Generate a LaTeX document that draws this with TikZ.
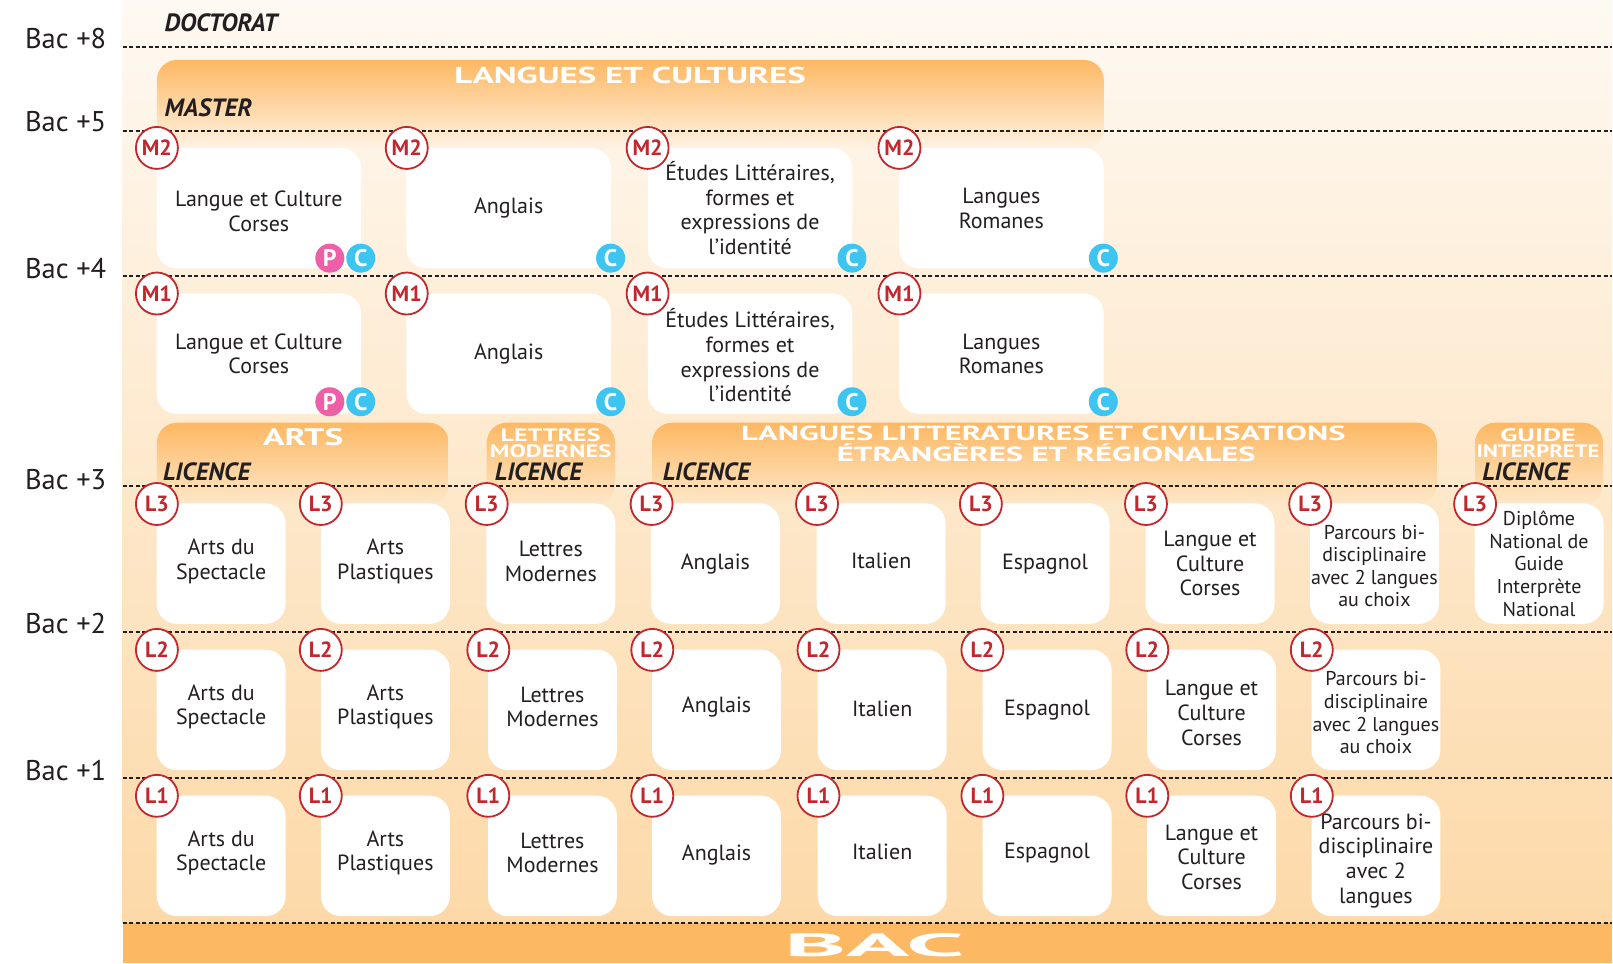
\documentclass[tikz,border=0pt]{standalone}
\usepackage{fontspec}
\setmainfont{PT Sans}
\newfontfamily\headfont[FakeStretch=1.3]{PT Sans}
\usetikzlibrary{shadings}
\definecolor{bandorange}{RGB}{253,184,99}
\definecolor{bgtop}{RGB}{254,249,242}
\definecolor{bgbottom}{RGB}{253,217,168}
\definecolor{fadeupper}{RGB}{254,244,230}
\definecolor{fadelower}{RGB}{253,232,202}
\definecolor{badgered}{RGB}{193,39,45}
\definecolor{labelink}{RGB}{35,31,32}
\definecolor{pinkbadge}{RGB}{238,95,167}
\definecolor{bluebadge}{RGB}{62,196,240}
\newcommand{\dropby}[2]{\raisebox{0pt}[\dimexpr\height+#1pt\relax]{#2}}
\newcommand{\liftby}[2]{\raisebox{0pt}[\height][\dimexpr\depth+#1pt\relax]{#2}}
\begin{document}
\begin{tikzpicture}[x=1pt,y=-1pt,level node/.style={font=\fontsize{28.5}{32}\selectfont\color{labelink}, anchor=east, inner sep=0pt},study node/.style={font=\fontsize{25}{28}\selectfont\bfseries\itshape\color{labelink}, anchor=west, inner sep=0pt},wide card/.style={fill=white, rounded corners=20pt, minimum width=204.6pt, minimum height=120.5pt, inner sep=0pt, align=center, font=\fontsize{22}{24.7}\selectfont\color{labelink}},card node/.style={wide card, minimum width=129pt},small card/.style={card node, font=\fontsize{20}{22.6}\selectfont\color{labelink}},year badge/.style={circle, draw=badgered, line width=1.8pt, fill=white, minimum size=42pt, inner sep=0pt, font=\fontsize{22}{22}\selectfont\bfseries\color{badgered}},p badge/.style={circle, fill=pinkbadge, minimum size=29pt, inner sep=0pt, font=\fontsize{24}{24}\selectfont\bfseries\color{white}},c badge/.style={p badge, fill=bluebadge},head node/.style={font=\fontsize{23}{23}\headfont\selectfont\bfseries\color{white}, inner sep=0pt},small head/.style={head node, font=\fontsize{18}{18}\headfont\selectfont\bfseries\color{white}},spine/.style={line width=2pt, labelink, dash pattern=on 4pt off 2.5pt}]%
  % Background%
\shade[top color=bgtop, bottom color=bgbottom] (122.8,0) rectangle (1613,924);%
\fill[bandorange] (122.8,924) rectangle (1613,964);%
  % Header bands%
\shade[top color=bandorange, bottom color=fadeupper, rounded corners=20pt] (157,150) -- (157,60) -- (1104.5,60) -- (1104.5,150) -- cycle;%
\shade[top color=bandorange, bottom color=fadelower, rounded corners=20pt] (157,505) -- (157,423) -- (449,423) -- (449,505) -- cycle;%
\shade[top color=bandorange, bottom color=fadelower, rounded corners=20pt] (487,505) -- (487,423) -- (615.5,423) -- (615.5,505) -- cycle;%
\shade[top color=bandorange, bottom color=fadelower, rounded corners=20pt] (652.6,505) -- (652.6,423) -- (1437.7,423) -- (1437.7,505) -- cycle;%
\shade[top color=bandorange, bottom color=fadelower, rounded corners=20pt] (1476,505) -- (1476,423) -- (1604,423) -- (1604,505) -- cycle;%
  % Levels%
\path[spine,draw] (122.8,46.7) -- (1613,46.7);%
\path[spine,draw] (122.8,130.7) -- (1613,130.7);%
\path[spine,draw] (122.8,276.3) -- (1613,276.3);%
\path[spine,draw] (122.8,486.5) -- (1613,486.5);%
\path[spine,draw] (122.8,632.7) -- (1613,632.7);%
\path[spine,draw] (122.8,778.7) -- (1613,778.7);%
\path[spine,draw] (122.8,924) -- (1613,924);%
\node[level node] (bac8) at (106.5,39) {Bac +8};%
\node[level node] (bac5) at (106.5,122) {Bac +5};%
\node[level node] (bac4) at (106.5,268.5) {Bac +4};%
\node[level node] (bac3) at (106.5,480) {Bac +3};%
\node[level node] (bac2) at (106.5,623.5) {Bac +2};%
\node[level node] (bac1) at (106.5,770.5) {Bac +1};%
  % Titles%
\node[study node] (doctorat) at (164.5,22.7) {DOCTORAT};%
\node[study node] (master) at (164.5,107.7) {MASTER};%
\node[study node] (licArts) at (163,471.7) {LICENCE};%
\node[study node] (licLettres) at (495,471.7) {LICENCE};%
\node[study node] (licLangues) at (663,471.7) {LICENCE};%
\node[study node] (licGuide) at (1483,471.7) {LICENCE};%
\node[head node] (headCultures) at (630.5,76) {\scalebox{1.165}[1]{LANGUES ET CULTURES}};%
\node[head node] (headArts) at (303.5,437) {\scalebox{1.19}[1.04]{ARTS}};%
\node[small head] (headLettres) at (551,435) {\scalebox{1.11}[1]{LETTRES}};%
\node[small head] (headModernes) at (551,451) {\scalebox{1.05}[1]{MODERNES}};%
\node[head node] (headLLCE) at (1044,433.5) {\scalebox{1.085}[.89]{LANGUES LITTERATURES ET CIVILISATIONS}};%
\node[head node] (headRegion) at (1047,453.5) {\scalebox{1.094}[.89]{ÉTRANGÈRES ET RÉGIONALES}};%
\node[small head] (headGuide) at (1539,435) {\scalebox{1.2}[1]{GUIDE}};%
\node[small head] (headInterprete) at (1539,451.7) {\scalebox{.97}[1]{INTERPRETE}};%
\node[head node] (headBac) at (875,946) {\scalebox{3.5}[1.4]{BAC}};%
  % Row M2%
\node[wide card] (m2a) at (259,208.3) {\dropby{6}{Langue et Culture}\\ Corses};%
\node[wide card] (m2b) at (509,208.3) {Anglais};%
\node[wide card] (m2c) at (750.5,208.3) {\liftby{2}{Études Littéraires,}\\ formes et\\ expressions de\\ l'identité};%
\node[wide card] (m2d) at (1002,208.3) {Langues\\ Romanes};%
\node[year badge] (m2aBadge) at (157,148) {M2};%
\node[year badge] (m2bBadge) at (407,148) {M2};%
\node[year badge] (m2cBadge) at (648,148) {M2};%
\node[year badge] (m2dBadge) at (900,148) {M2};%
\node[p badge] (m2aP) at (330,258.3) {P};%
\node[c badge] (m2aC) at (361,258.3) {C};%
\node[c badge] (m2bC) at (611,258.3) {C};%
\node[c badge] (m2cC) at (852.5,258.3) {C};%
\node[c badge] (m2dC) at (1104,258.3) {C};%
  % Row M1%
\node[wide card] (m1a) at (259,354) {Langue et Culture\\ Corses};%
\node[wide card] (m1b) at (509,354) {Anglais};%
\node[wide card] (m1c) at (750.5,354) {\dropby{3}{Études Littéraires,}\\ formes et\\ expressions de\\ l'identité};%
\node[wide card] (m1d) at (1002,354) {Langues\\ Romanes};%
\node[year badge] (m1aBadge) at (157,293.7) {M1};%
\node[year badge] (m1bBadge) at (407,293.7) {M1};%
\node[year badge] (m1cBadge) at (648,293.7) {M1};%
\node[year badge] (m1dBadge) at (900,293.7) {M1};%
\node[p badge] (m1aP) at (330,402) {P};%
\node[c badge] (m1aC) at (361,402) {C};%
\node[c badge] (m1bC) at (611,402) {C};%
\node[c badge] (m1cC) at (852.5,402) {C};%
\node[c badge] (m1dC) at (1104,402) {C};%
  % Row L3%
\node[card node] (l3a) at (221.3,564) {Arts du\\ \liftby{4}{Spectacle}};%
\node[card node] (l3b) at (385.6,564) {Arts\\ \liftby{4}{Plastiques}};%
\node[card node] (l3c) at (551.2,564) {Lettres\\ \liftby{4}{Modernes}};%
\node[card node] (l3d) at (715.8,564) {Anglais};%
\node[card node] (l3e) at (881.7,564) {\liftby{6}{Italien}};%
\node[card node] (l3f) at (1045.7,564) {Espagnol};%
\node[card node] (l3g) at (1210.8,564) {Langue et\\ Culture\\ Corses};%
\node[small card] (l3h) at (1375.3,564) {\dropby{5}{Parcours bi-}\\ disciplinaire\\ avec 2 langues\\ au choix};%
\node[small card] (l3i) at (1540,564) {Diplôme\\ National de\\ Guide\\ Interprète\\ National};%
\node[year badge] (l3aBadge) at (157,504.3) {L3};%
\node[year badge] (l3bBadge) at (321,504.3) {L3};%
\node[year badge] (l3cBadge) at (487,504.3) {L3};%
\node[year badge] (l3dBadge) at (652,504.3) {L3};%
\node[year badge] (l3eBadge) at (817.5,504.3) {L3};%
\node[year badge] (l3fBadge) at (981.5,504.3) {L3};%
\node[year badge] (l3gBadge) at (1146.7,504.3) {L3};%
\node[year badge] (l3hBadge) at (1311,504.3) {L3};%
\node[year badge] (l3iBadge) at (1476,504.3) {L3};%
  % Row L2%
\node[card node] (l2a) at (221.3,710.3) {Arts du\\ \liftby{6}{Spectacle}};%
\node[card node] (l2b) at (385.6,710.3) {Arts\\ \liftby{6}{Plastiques}};%
\node[card node] (l2c) at (552.8,710.3) {Lettres\\ \liftby{6}{Modernes}};%
\node[card node] (l2d) at (717,710.3) {\liftby{6}{Anglais}};%
\node[card node] (l2e) at (882.7,710.3) {\liftby{2}{Italien}};%
\node[card node] (l2f) at (1047.7,710.3) {Espagnol};%
\node[card node] (l2g) at (1212.3,710.3) {\dropby{6}{Langue et}\\ Culture\\ Corses};%
\node[small card] (l2h) at (1376.8,710.3) {\dropby{6}{Parcours bi-}\\ disciplinaire\\ avec 2 langues\\ au choix};%
\node[year badge] (l2aBadge) at (157,650.3) {L2};%
\node[year badge] (l2bBadge) at (321,650.3) {L2};%
\node[year badge] (l2cBadge) at (488.6,650.3) {L2};%
\node[year badge] (l2dBadge) at (652.7,650.3) {L2};%
\node[year badge] (l2eBadge) at (819,650.3) {L2};%
\node[year badge] (l2fBadge) at (983,650.3) {L2};%
\node[year badge] (l2gBadge) at (1148,650.3) {L2};%
\node[year badge] (l2hBadge) at (1312.6,650.3) {L2};%
  % Row L1%
\node[card node] (l1a) at (221.3,856.4) {Arts du\\ \liftby{6}{Spectacle}};%
\node[card node] (l1b) at (385.6,856.4) {Arts\\ \liftby{6}{Plastiques}};%
\node[card node] (l1c) at (552.8,856.4) {Lettres\\ \liftby{6}{Modernes}};%
\node[card node] (l1d) at (717,856.4) {\liftby{2}{Anglais}};%
\node[card node] (l1e) at (882.7,856.4) {\liftby{8}{Italien}};%
\node[card node] (l1f) at (1047.7,856.4) {\liftby{6}{Espagnol}};%
\node[card node] (l1g) at (1212.3,856.4) {\dropby{3}{Langue et}\\ Culture\\ Corses};%
\node[card node] (l1h) at (1376.8,856.4) {\dropby{10}{Parcours bi-}\\ disciplinaire\\ avec 2\\ langues};%
\node[year badge] (l1aBadge) at (157,796.3) {L1};%
\node[year badge] (l1bBadge) at (321,796.3) {L1};%
\node[year badge] (l1cBadge) at (488.6,796.3) {L1};%
\node[year badge] (l1dBadge) at (652.7,796.3) {L1};%
\node[year badge] (l1eBadge) at (819,796.3) {L1};%
\node[year badge] (l1fBadge) at (983,796.3) {L1};%
\node[year badge] (l1gBadge) at (1148,796.3) {L1};%
\node[year badge] (l1hBadge) at (1312.6,796.3) {L1};%
\path[use as bounding box] (0,0) rectangle (1613,964);%
\end{tikzpicture}
\end{document}
